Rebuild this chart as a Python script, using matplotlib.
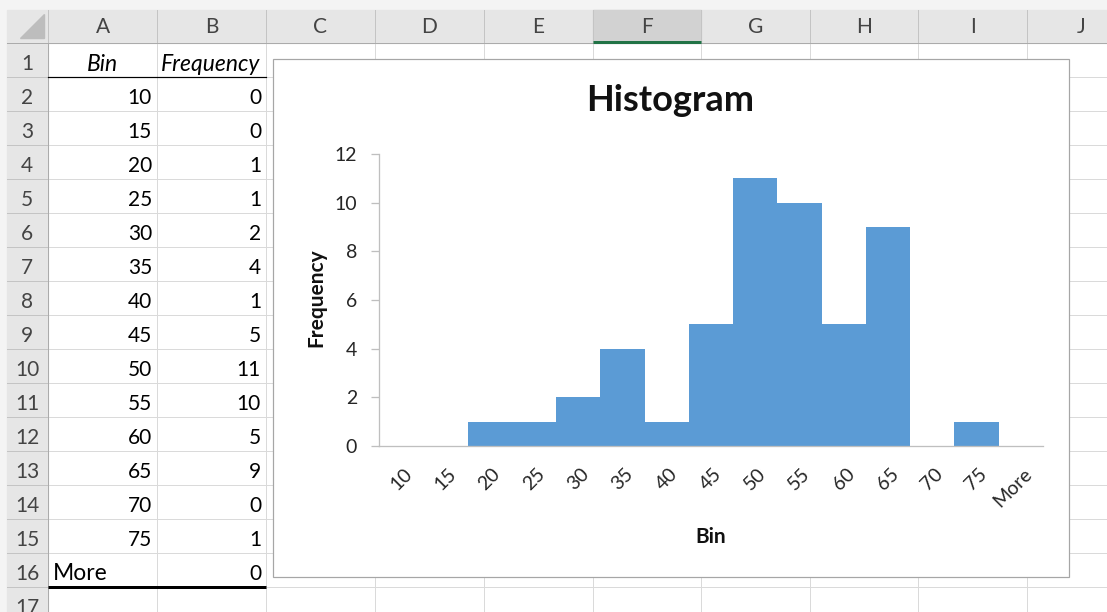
import matplotlib
matplotlib.use('Agg')
import matplotlib.pyplot as plt
from matplotlib.patches import Rectangle, Polygon
import matplotlib.transforms as mtrans

# ---- data ----
bins = ['10', '15', '20', '25', '30', '35', '40', '45', '50', '55', '60', '65', '70', '75', 'More']
frequency = [0, 0, 1, 1, 2, 4, 1, 5, 11, 10, 5, 9, 0, 1, 0]
col_letters = ['A', 'B', 'C', 'D', 'E', 'F', 'G', 'H', 'I', 'J']
row_numbers = list(range(1, 18))
y_ticks = [0, 2, 4, 6, 8, 10, 12]

plt.rcParams['font.family'] = ['Lato', 'DejaVu Sans']

W, H = 1107, 612
fig = plt.figure(figsize=(W / 100, H / 100), dpi=100)

bg = fig.add_axes([0, 0, 1, 1])
bg.set_xlim(0, W)
bg.set_ylim(H, 0)
bg.axis('off')

PX = 0.72  # 1 px in points
col_edges = [48, 157, 266, 375, 484, 593, 701, 810, 918, 1027, 1136]
ROW0, RH = 43, 34
row_edges = [ROW0 + k * RH for k in range(0, 18)]

# background strips
bg.add_patch(Rectangle((0, 0), W, H, color='white', zorder=0))
bg.add_patch(Rectangle((0, 0), W, 10, color='#F4F4F4', zorder=0.5))
bg.add_patch(Rectangle((0, 0), 7, H, color='#F4F4F4', zorder=0.5))
bg.add_patch(Rectangle((7, 10), W - 7, 33, color='#E6E6E6', zorder=1))
bg.add_patch(Rectangle((7, 43), 41, H - 43, color='#E6E6E6', zorder=1))
# selected column F header
bg.add_patch(Rectangle((593, 10), 108, 33, color='#D2D2D2', zorder=1.1))
bg.plot([593, 701], [41.5, 41.5], color='#217346', lw=3 * PX, zorder=3, solid_capstyle='butt')
# corner triangle
bg.add_patch(Polygon([[44, 14], [44, 38], [20, 38]], closed=True, color='#BDBDBD', zorder=2))

# header separators
for x in col_edges:
    bg.plot([x, x], [10, 43], color='#C4C4C4', lw=PX, zorder=2)
for y in row_edges:
    bg.plot([7, 48], [y, y], color='#C4C4C4', lw=PX, zorder=2)
# grid lines
for x in col_edges[1:]:
    bg.plot([x, x], [43, H], color='#DADADA', lw=PX, zorder=1.5)
for y in row_edges[1:]:
    bg.plot([48, W], [y, y], color='#DADADA', lw=PX, zorder=1.5)
bg.plot([7, W], [43, 43], color='#ABABAB', lw=PX, zorder=2.5)
bg.plot([48, 48], [43, H], color='#ABABAB', lw=PX, zorder=2.5)

# cell borders
bg.plot([48, 266], [77, 77], color='black', lw=1.2 * PX, zorder=3)
bg.plot([48, 266], [587, 587], color='black', lw=3 * PX, zorder=3, solid_capstyle='butt')

FS_NUM = 15
FS_WORD = 16.5
HC = '#444444'
# column letters
for i, c in enumerate(col_letters):
    cx = (col_edges[i] + col_edges[i + 1]) / 2
    bg.text(cx, 33, c, ha='center', va='baseline', fontsize=FS_NUM, color=HC, zorder=4)
# row numbers
for r in row_numbers:
    bg.text(27, row_edges[r - 1] + 27, str(r), ha='center', va='baseline', fontsize=FS_NUM, color=HC, zorder=4)

# cell contents
bg.text(102, 71, 'Bin', ha='center', va='baseline', fontsize=FS_WORD, style='italic', zorder=4)
bg.text(211, 71, 'Frequency', ha='center', va='baseline', fontsize=FS_WORD, style='italic', zorder=4)
for i, (b, f) in enumerate(zip(bins, frequency)):
    ytxt = row_edges[i + 1] + 27
    if b == 'More':
        bg.text(53, ytxt, b, ha='left', va='baseline', fontsize=FS_WORD, zorder=4)
    else:
        bg.text(152, ytxt, b, ha='right', va='baseline', fontsize=FS_NUM, zorder=4)
    bg.text(261, ytxt, str(f), ha='right', va='baseline', fontsize=FS_NUM, zorder=4)

# chart area
bg.add_patch(Rectangle((273, 59), 796, 518, facecolor='white', edgecolor='#A6A6A6', lw=1.2 * PX, zorder=5))

def fx(x):
    return x / W

def fy(y):
    return 1 - y / H

# title and axis titles
fig.text(fx(670), fy(111), 'Histogram', ha='center', va='baseline', fontsize=26, fontweight='bold', color='#111111')
fig.text(fx(711), fy(543), 'Bin', ha='center', va='baseline', fontsize=15, fontweight='bold', color='#111111')
fig.text(fx(316), fy(298), 'Frequency', ha='center', va='center', rotation=90, fontsize=15, fontweight='bold', color='#111111')

ax = fig.add_axes([fx(379), fy(446), (1043 - 379) / W, (446 - 154) / H])
ax.set_facecolor('none')
x = list(range(len(bins)))
ax.bar(x, frequency, width=1.0, color='#5B9BD5', linewidth=0)
ax.set_xlim(-0.5, len(bins) - 0.5)
ax.set_ylim(0, 12)
ax.set_yticks(y_ticks)
for s in ['top', 'right']:
    ax.spines[s].set_visible(False)
for s in ['left', 'bottom']:
    ax.spines[s].set_color('#BFBFBF')
    ax.spines[s].set_linewidth(1.3 * PX)
ax.tick_params(axis='y', direction='out', length=8 * PX, width=1.3 * PX, color='#BFBFBF', pad=10,
               labelsize=14, labelcolor='#262626')
ax.tick_params(axis='x', length=0, labelbottom=False)

tr = mtrans.offset_copy(ax.get_xaxis_transform(), fig=fig, x=8, y=-25, units='dots')
for xi, lab in zip(x, bins):
    ax.text(xi, 0, lab, transform=tr, rotation=45, rotation_mode='anchor', ha='right', va='center',
            fontsize=14, color='#262626')

fig.savefig('out.png', dpi=100)
